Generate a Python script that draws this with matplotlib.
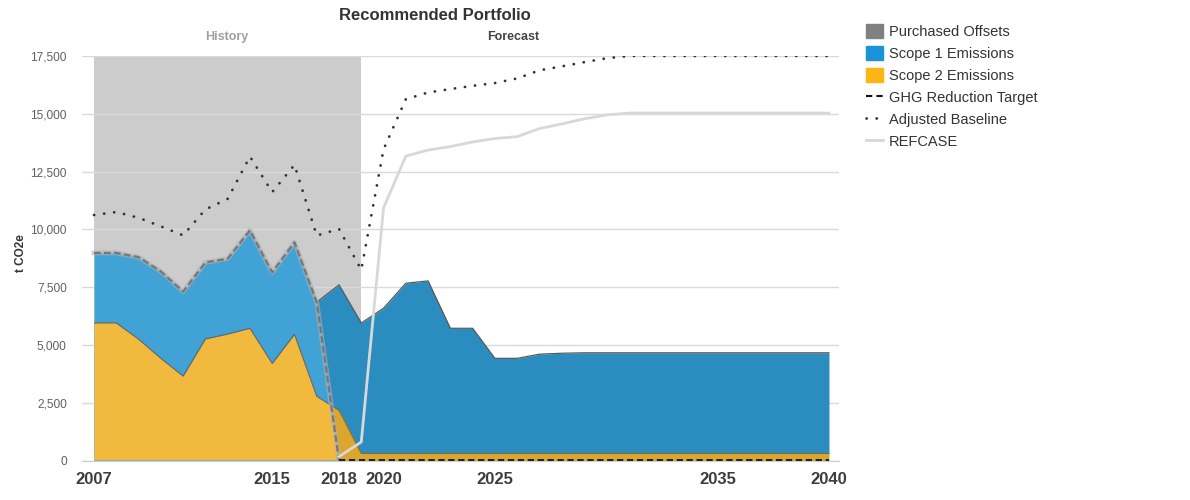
import numpy as np
import matplotlib
matplotlib.use("Agg")
import matplotlib.pyplot as plt
from matplotlib.patches import Patch
from matplotlib.lines import Line2D

plt.rcParams['font.family'] = ['Liberation Sans', 'DejaVu Sans']

# history (actuals)
hist_years = [2007, 2008, 2009, 2010, 2011, 2012, 2013, 2014, 2015, 2016, 2017, 2018]
hist_scope2 = [5950, 5950, 5250, 4420, 3650, 5260, 5470, 5720, 4200, 5460, 2780, 2170]
hist_total = [8980, 8980, 8800, 8180, 7310, 8570, 8730, 9960, 8140, 9440, 6850, 0]

# forecast
fc_years = list(range(2017, 2041))
fc_scope2 = [2780, 2170, 300, 300, 300, 300, 300, 300, 300, 300, 300, 300,
             300, 300, 300, 300, 300, 300, 300, 300, 300, 300, 300, 300]
fc_total = [6850, 7600, 5950, 6590, 7670, 7770, 5720, 5720, 4420, 4420, 4600, 4640,
            4660, 4660, 4660, 4660, 4660, 4660, 4660, 4660, 4660, 4660, 4660, 4660]

# GHG reduction target
target_years = list(range(2007, 2041))
target = hist_total + [0] * 22

# adjusted baseline
base_years = list(range(2007, 2041))
baseline = [10620, 10750, 10500, 10130, 9740, 10860, 11320, 13150, 11610, 12790, 9730, 10020, 8250,
            13460, 15630, 15920, 16070, 16210, 16330, 16530, 16880, 17050, 17230, 17400,
            17500, 17500, 17500, 17500, 17500, 17500, 17500, 17500, 17500, 17500]

# REFCASE
ref_years = list(range(2018, 2041))
refcase = [170, 800, 10930, 13170, 13430, 13580, 13780, 13930, 14010, 14360, 14560, 14780, 14950,
           15030, 15030, 15030, 15030, 15030, 15030, 15030, 15030, 15030, 15030]

tick_years = [2007, 2015, 2018, 2020, 2025, 2035, 2040]

c_hist_y = '#f2b93f'
c_hist_b = '#41a2d6'
c_fc_y = '#dba52e'
c_fc_b = '#2b8cc0'
dots = (0, (0.05, 3.6))

fig = plt.figure(figsize=(11.9, 5), dpi=100)
ax = fig.add_axes([82/1190, 1-460.5/500, (839-82)/1190, (460.5-56)/500])

ax.axvspan(2007, 2019, color='#cccccc', zorder=0.1, lw=0)

# forecast areas (under)
ax.fill_between(fc_years, 0, fc_scope2, color=c_fc_y, lw=0, zorder=2)
ax.fill_between(fc_years, fc_scope2, fc_total, color=c_fc_b, lw=0, zorder=2)
ax.plot(fc_years, fc_total, color='#5a5a5a', lw=0.9, zorder=2.5)
ax.plot(fc_years, fc_scope2, color='#8a6a20', lw=0.7, zorder=2.5)

# history areas (on top)
tot = ax.fill_between(hist_years, 0, hist_total, color=c_hist_b, lw=0, zorder=3)
yel = ax.fill_between(hist_years, 0, hist_scope2, color=c_hist_y, lw=0, zorder=3.2)
yel.set_clip_path(tot.get_paths()[0], ax.transData)
edge, = ax.plot(hist_years, hist_scope2, color='#666666', lw=0.8, zorder=3.3)
edge.set_clip_path(tot.get_paths()[0], ax.transData)

# target line
t = np.array(target, dtype=float)
ty = np.array(target_years)
ax.plot(ty[ty <= 2018], t[ty <= 2018], color='#b0b0b0', lw=3.5, alpha=0.6, zorder=3.5)
ax.plot(ty[ty <= 2018], t[ty <= 2018], color='#777777', lw=1.6, ls=(0, (3, 1.5)), zorder=3.6)
ax.plot(ty[ty >= 2018], t[ty >= 2018] + 15, color='#111111', lw=1.3, ls=(0, (3.5, 2)), zorder=3.6)

# baseline and refcase
ax.plot(base_years, baseline, color='#333333', lw=2, ls=dots,
        dash_capstyle='round', zorder=5)
ax.plot(ref_years, refcase, color='#d8d8d8', lw=2, zorder=4.5)

ax.set_xlim(2006.46, 2040.45)
ax.set_ylim(0, 17500)
ax.set_yticks(range(0, 17501, 2500))
ax.set_yticklabels([f'{v:,}' for v in range(0, 17501, 2500)])
ax.set_xticks(tick_years)
ax.set_xticklabels([str(y) for y in tick_years])
ax.set_axisbelow(True)
ax.yaxis.grid(True, color='#dadada', lw=1)
ax.tick_params(axis='y', length=0, pad=11, labelsize=8.6, labelcolor='#606060')
ax.tick_params(axis='x', length=0, pad=8, labelsize=12, labelcolor='#3d3d3d')
for lab in ax.get_xticklabels():
    lab.set_fontweight('bold')
for s in ['top', 'right', 'left']:
    ax.spines[s].set_visible(False)
ax.spines['bottom'].set_color('#c0d0e0')
ax.spines['bottom'].set_zorder(6)

fig.text(21/1190, 1-253/500, 't CO2e', rotation=90, ha='center', va='center',
         fontsize=8.5, fontweight='bold', color='#333333')
fig.text(435/1190, 1-16/500, 'Recommended Portfolio', ha='center', va='center',
         fontsize=12, fontweight='bold', color='#333333')
fig.text(227/1190, 1-37/500, 'History', ha='center', va='center',
         fontsize=9, fontweight='bold', color='#a0a0a0')
fig.text(513.5/1190, 1-37/500, 'Forecast', ha='center', va='center',
         fontsize=9, fontweight='bold', color='#444444')

handles = [Patch(color='#808080'), Patch(color='#1b93d9'), Patch(color='#fdb515'),
           Line2D([], [], color='#111111', lw=1.5, ls=(0, (3, 2))),
           Line2D([], [], color='#333333', lw=2, ls=dots, dash_capstyle='round'),
           Line2D([], [], color='#d8d8d8', lw=2)]
labels = ['Purchased Offsets', 'Scope 1 Emissions', 'Scope 2 Emissions',
          'GHG Reduction Target', 'Adjusted Baseline', 'REFCASE']
fig.legend(handles, labels, loc='upper left', bbox_to_anchor=(866/1190, 1-23.5/500),
           frameon=False, fontsize=10.5, handlelength=1.15, handleheight=1.15,
           labelspacing=0.47, handletextpad=0.4, borderaxespad=0, borderpad=0,
           labelcolor='#333333')

fig.savefig('out.png', dpi=100)
